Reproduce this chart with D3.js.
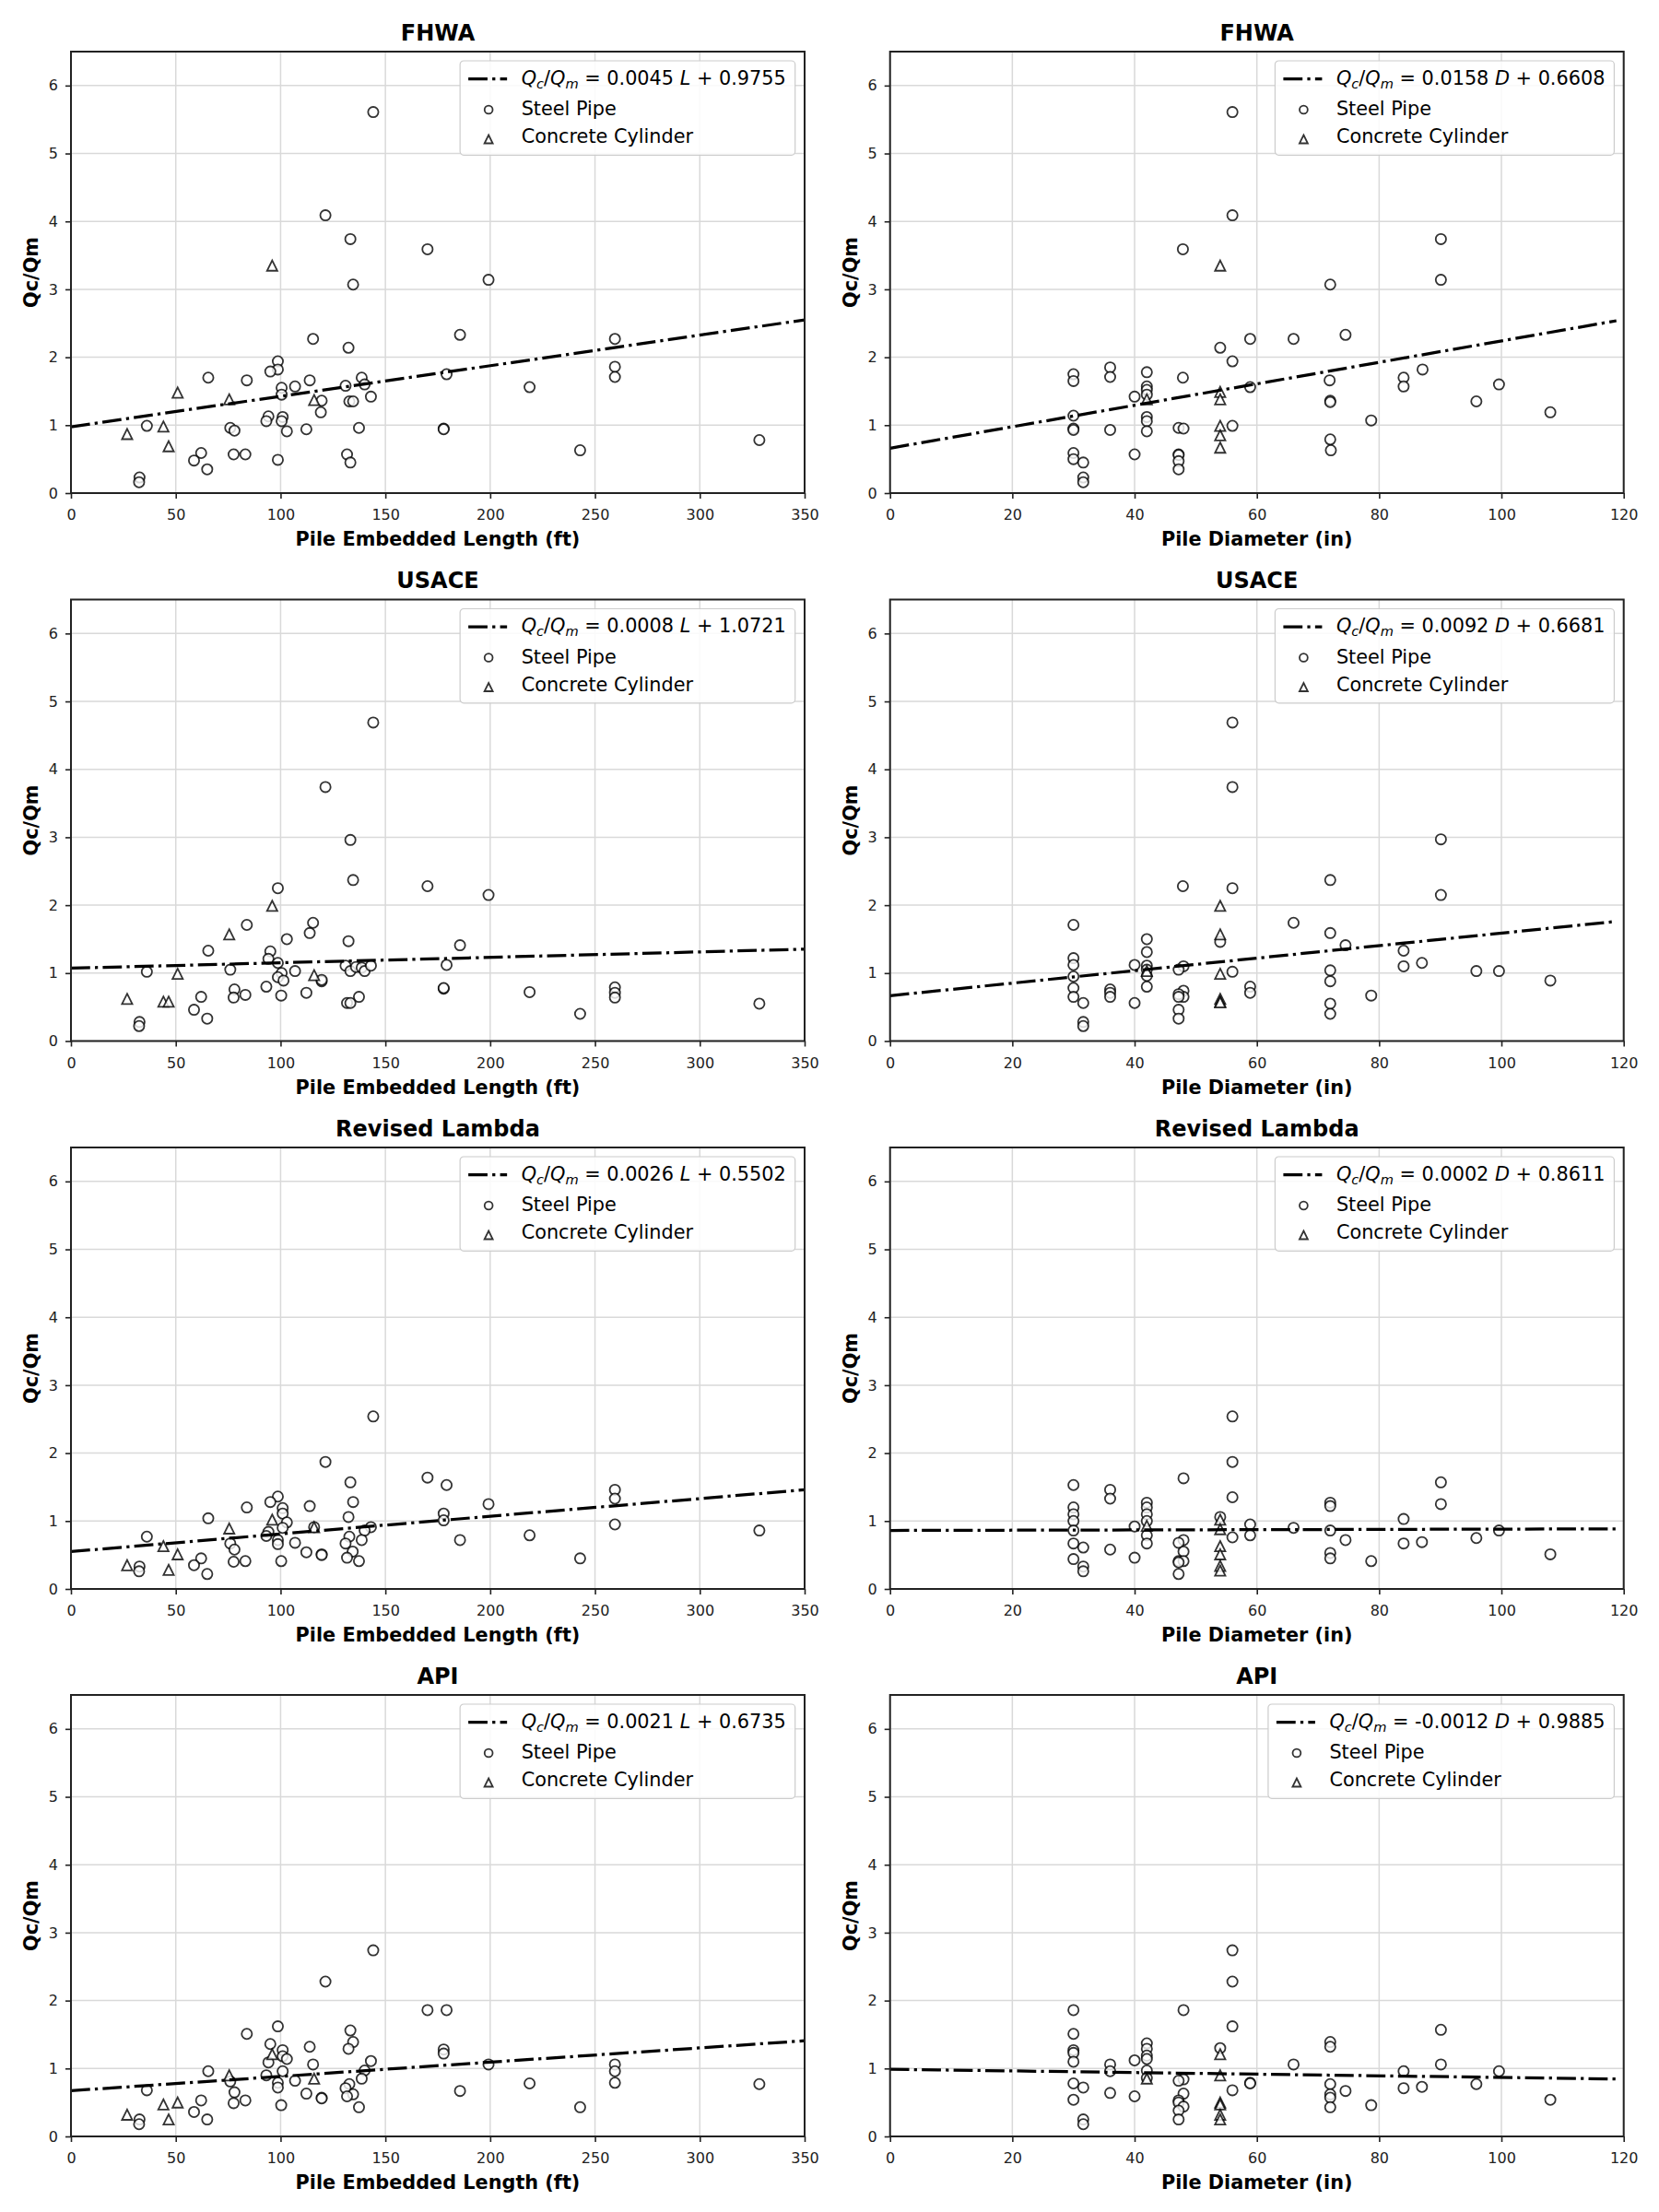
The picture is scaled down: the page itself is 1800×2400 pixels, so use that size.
<!DOCTYPE html>
<html><head><meta charset="utf-8">
<script src="https://cdnjs.cloudflare.com/ajax/libs/d3/7.8.5/d3.min.js"></script>
<style>
body{margin:0;background:#fff;}
text{font-family:"DejaVu Sans",sans-serif;white-space:pre;}
</style></head><body>
<svg id="chart" width="1800" height="2400" xmlns="http://www.w3.org/2000/svg"></svg>
<script>
// ---------------- DATA ----------------
const methods = ["FHWA", "USACE", "Revised Lambda", "API"];
const slopesL = [0.0045, 0.0008, 0.0026, 0.0021];
const interceptsL = [0.9755, 1.0721, 0.5502, 0.6735];
const slopesD = [0.0158, 0.0092, 0.0002, -0.0012];
const interceptsD = [0.6608, 0.6681, 0.8611, 0.9885];
const yTicks = [0, 1, 2, 3, 4, 5, 6];
const xTicksL = [0, 50, 100, 150, 200, 250, 300, 350];
const xTicksD = [0, 20, 40, 60, 80, 100, 120];
const yLabel = "Qc/Qm";
const xLabelL = "Pile Embedded Length (ft)";
const xLabelD = "Pile Diameter (in)";
const legendSteel = "Steel Pipe";
const legendConc = "Concrete Cylinder";

// FHWA
const fhwaL_steel = [[144.2,5.61],[121.4,4.09],[133.3,3.74],[170.1,3.59],[199.2,3.14],[134.6,3.07],[185.6,2.33],[115.5,2.27],[259.5,2.27],[132.4,2.14],[98.7,1.94],[98.7,1.82],[95.1,1.79],[65.5,1.70],[83.9,1.66],[113.9,1.66],[259.5,1.86],[259.5,1.71],[179.2,1.75],[138.7,1.70],[140.1,1.60],[131.0,1.58],[106.9,1.57],[100.5,1.55],[100.5,1.45],[218.8,1.56],[119.6,1.36],[132.8,1.35],[134.6,1.35],[143.1,1.42],[119.2,1.19],[94.2,1.13],[93.2,1.06],[101.0,1.12],[100.5,1.06],[36.2,0.99],[76.0,0.96],[78.0,0.92],[103.0,0.91],[112.3,0.94],[137.4,0.96],[177.8,0.95],[177.8,0.94],[328.4,0.78],[242.9,0.63],[62.1,0.59],[58.7,0.48],[65.0,0.35],[77.6,0.57],[83.2,0.57],[98.7,0.49],[131.7,0.57],[133.3,0.45],[32.7,0.23],[32.5,0.16]];
const fhwaL_conc = [[96.0,3.35],[50.9,1.48],[75.5,1.38],[116.0,1.37],[44.1,0.98],[26.8,0.87],[46.6,0.69]];
const fhwaD_steel = [[56.0,5.61],[56.0,4.09],[90.1,3.74],[47.9,3.59],[90.1,3.14],[72.0,3.07],[74.5,2.33],[58.9,2.27],[66.0,2.27],[54.0,2.14],[56.0,1.94],[36.0,1.85],[36.0,1.71],[30.0,1.75],[30.0,1.65],[42.0,1.78],[42.0,1.57],[42.0,1.52],[47.9,1.70],[87.1,1.82],[84.0,1.70],[84.0,1.57],[71.9,1.66],[58.9,1.56],[99.6,1.60],[40.0,1.42],[42.0,1.45],[72.0,1.36],[72.0,1.34],[95.9,1.35],[108.0,1.19],[30.0,1.14],[42.0,1.12],[42.0,1.06],[30.0,0.95],[30.0,0.93],[36.0,0.93],[42.0,0.91],[47.2,0.96],[48.0,0.95],[56.0,0.99],[78.7,1.07],[72.0,0.79],[72.1,0.63],[30.0,0.59],[30.0,0.50],[31.6,0.45],[40.0,0.57],[47.2,0.57],[47.2,0.56],[47.2,0.47],[47.2,0.35],[31.6,0.23],[31.6,0.16]];
const fhwaD_conc = [[54.0,3.35],[54.0,1.49],[54.0,1.38],[42.0,1.38],[54.0,0.99],[54.0,0.85],[54.0,0.67]];

// USACE
const usaceL_steel = [[144.2,4.69],[121.4,3.74],[133.3,2.96],[134.6,2.37],[98.7,2.25],[170.1,2.28],[199.2,2.15],[83.9,1.71],[115.5,1.74],[113.9,1.59],[103.0,1.50],[132.4,1.47],[185.6,1.41],[65.5,1.33],[95.1,1.32],[94.2,1.21],[98.7,1.15],[100.5,1.00],[131.0,1.11],[133.3,1.03],[136.0,1.09],[138.7,1.08],[140.1,1.03],[143.1,1.11],[106.9,1.03],[179.2,1.12],[36.2,1.02],[76.0,1.05],[98.7,0.94],[101.4,0.89],[119.6,0.88],[119.6,0.90],[93.2,0.80],[177.8,0.77],[177.8,0.78],[78.0,0.76],[77.6,0.64],[83.2,0.68],[100.3,0.67],[112.3,0.71],[137.4,0.65],[218.8,0.72],[259.5,0.79],[259.5,0.71],[259.5,0.64],[62.1,0.65],[58.7,0.46],[65.0,0.33],[131.7,0.56],[133.3,0.56],[242.9,0.40],[328.4,0.55],[32.7,0.28],[32.5,0.22]];
const usaceL_conc = [[96.0,1.99],[75.5,1.57],[50.9,0.99],[116.0,0.97],[26.8,0.62],[44.1,0.58],[46.6,0.58]];
const usaceD_steel = [[56,4.69],[56,3.74],[90.1,2.97],[72,2.37],[47.9,2.28],[56,2.25],[90.1,2.15],[66,1.74],[30,1.71],[72,1.59],[54,1.46],[42,1.50],[42,1.31],[74.5,1.41],[84,1.33],[30,1.22],[30,1.12],[40,1.12],[42,1.11],[42,1.05],[42,0.96],[48,1.10],[47.2,1.05],[87,1.15],[84,1.10],[72,1.04],[95.9,1.03],[99.6,1.03],[56,1.02],[30,0.95],[30,0.78],[30,0.65],[42,0.80],[72,0.88],[108,0.89],[58.9,0.80],[58.9,0.71],[36,0.76],[36,0.71],[36,0.65],[48,0.74],[48,0.65],[47.2,0.69],[47.2,0.65],[78.7,0.67],[31.6,0.56],[40,0.56],[72,0.55],[72,0.40],[47.2,0.46],[47.2,0.33],[31.6,0.28],[31.6,0.22]];
const usaceD_conc = [[54,1.99],[54,1.57],[42,1.03],[54,0.99],[54,0.62],[54,0.58],[54,0.57]];

// Revised Lambda
const rlL_steel = [[144.2,2.54],[121.4,1.87],[133.3,1.57],[170.1,1.64],[179.2,1.53],[259.5,1.46],[259.5,1.33],[98.7,1.36],[95.1,1.28],[134.6,1.28],[83.9,1.20],[113.9,1.22],[101.0,1.19],[101.0,1.11],[199.2,1.25],[177.8,1.11],[177.8,1.01],[132.4,1.06],[65.5,1.04],[103.0,0.98],[259.5,0.95],[101.0,0.90],[116.0,0.91],[143.1,0.91],[140.1,0.86],[94.2,0.84],[93.2,0.78],[218.8,0.79],[328.4,0.86],[36.2,0.77],[98.7,0.72],[98.7,0.66],[132.8,0.77],[138.7,0.72],[185.6,0.72],[76.0,0.67],[106.9,0.68],[131.0,0.67],[78.0,0.58],[112.3,0.54],[119.6,0.51],[119.6,0.50],[134.4,0.55],[131.7,0.46],[62.1,0.45],[242.9,0.45],[77.6,0.40],[83.2,0.41],[100.3,0.41],[137.4,0.41],[58.7,0.35],[32.7,0.33],[32.5,0.26],[65.0,0.22]];
const rlL_conc = [[96.0,1.02],[75.5,0.89],[116.0,0.91],[44.1,0.63],[50.9,0.51],[26.8,0.35],[46.6,0.28]];
const rlD_steel = [[56,2.54],[56,1.87],[48,1.63],[90.1,1.57],[30,1.53],[36,1.46],[36,1.33],[56,1.35],[42,1.27],[90.1,1.25],[72,1.27],[72,1.22],[30,1.20],[30,1.10],[42,1.20],[42,1.10],[54,1.06],[84,1.03],[30,1.00],[42,1.00],[40,0.92],[58.9,0.95],[66,0.90],[30,0.86],[72,0.86],[99.6,0.86],[42,0.79],[58.9,0.79],[56,0.76],[95.9,0.75],[74.5,0.72],[48,0.72],[30,0.67],[42,0.67],[47.2,0.68],[84,0.67],[87,0.69],[31.6,0.61],[36,0.58],[48,0.55],[72,0.53],[72,0.45],[108,0.51],[30,0.44],[40,0.46],[47.2,0.41],[48,0.41],[47.2,0.39],[78.7,0.41],[31.6,0.33],[31.6,0.26],[47.2,0.22]];
const rlD_conc = [[54,1.02],[42,0.93],[54,0.88],[54,0.63],[54,0.51],[54,0.34],[54,0.27]];

// API
const apiL_steel = [[144.2,2.74],[121.4,2.28],[170.1,1.86],[179.2,1.86],[98.7,1.62],[83.9,1.51],[133.3,1.56],[134.6,1.39],[132.4,1.29],[95.1,1.36],[101.0,1.27],[113.9,1.32],[177.8,1.28],[177.8,1.22],[101.0,1.18],[103.0,1.14],[143.1,1.11],[94.2,1.09],[115.5,1.06],[199.2,1.06],[259.5,1.06],[259.5,0.96],[259.5,0.79],[65.5,0.96],[101.0,0.96],[140.1,0.97],[93.2,0.90],[76.0,0.81],[106.9,0.82],[138.7,0.85],[98.7,0.79],[98.7,0.72],[218.8,0.78],[328.4,0.77],[132.8,0.77],[131.0,0.71],[36.2,0.68],[185.6,0.67],[78.0,0.65],[112.3,0.63],[134.6,0.62],[131.7,0.59],[119.6,0.57],[119.6,0.56],[77.6,0.49],[83.2,0.53],[62.1,0.53],[100.3,0.46],[137.4,0.43],[242.9,0.43],[58.7,0.36],[65.0,0.25],[32.7,0.25],[32.5,0.18]];
const apiL_conc = [[96.0,1.21],[75.5,0.90],[116.0,0.85],[44.1,0.47],[50.9,0.50],[26.8,0.32],[46.6,0.25]];
const apiD_steel = [[56,2.74],[56,2.28],[30,1.86],[48,1.86],[56,1.62],[90.1,1.57],[30,1.51],[72,1.39],[72,1.32],[42,1.37],[30,1.27],[30,1.23],[54,1.30],[42,1.29],[42,1.19],[42,1.14],[40,1.12],[30,1.10],[36,1.06],[66,1.06],[90.1,1.06],[36,0.96],[42,0.97],[84,0.96],[99.6,0.96],[42,0.86],[48,0.84],[47.2,0.82],[58.9,0.79],[58.9,0.78],[30,0.78],[72,0.77],[95.9,0.77],[31.6,0.72],[84,0.71],[87,0.73],[56,0.68],[74.5,0.67],[36,0.64],[48,0.63],[72,0.62],[40,0.59],[72,0.57],[30,0.54],[108,0.54],[47.2,0.53],[47.2,0.50],[48,0.44],[72,0.43],[78.7,0.46],[47.2,0.38],[47.2,0.25],[31.6,0.25],[31.6,0.18]];
const apiD_conc = [[54,1.21],[54,0.90],[42,0.85],[54,0.50],[54,0.47],[54,0.32],[54,0.25]];

const steelL = [fhwaL_steel, usaceL_steel, rlL_steel, apiL_steel];
const concL  = [fhwaL_conc, usaceL_conc, rlL_conc, apiL_conc];
const steelD = [fhwaD_steel, usaceD_steel, rlD_steel, apiD_steel];
const concD  = [fhwaD_conc, usaceD_conc, rlD_conc, apiD_conc];

// ---------------- LAYOUT ----------------
const W = 796, H = 479;
const colX = [77, 965.7];
const rowY = [56, 650.5, 1245, 1839];
const INK = "#222";

const panels = [];
methods.forEach((m, i) => {
  panels.push({title: m, row: i, col: 0, steel: steelL[i], conc: concL[i], slope: slopesL[i], icpt: interceptsL[i], v: "L", xMax: 350, xTicks: xTicksL, xLabel: xLabelL});
  panels.push({title: m, row: i, col: 1, steel: steelD[i], conc: concD[i], slope: slopesD[i], icpt: interceptsD[i], v: "D", xMax: 120, xTicks: xTicksD, xLabel: xLabelD});
});

const svg = d3.select("#chart");
svg.append("rect").attr("width", 1800).attr("height", 2400).attr("fill", "#fff");

const triPath = s => `M0,${-s}L${s},${s}L${-s},${s}Z`;

panels.forEach((p, k) => {
  const g = svg.append("g").attr("transform", `translate(${colX[p.col]},${rowY[p.row]})`);
  const x = d3.scaleLinear().domain([0, p.xMax]).range([0, W]);
  const y = d3.scaleLinear().domain([0, 6.5]).range([H, 0]);
  const cid = "clip" + k;
  g.append("clipPath").attr("id", cid).append("rect").attr("width", W).attr("height", H);

  // grid
  const grid = g.append("g");
  grid.selectAll("line.gx").data(p.xTicks).join("line").attr("class", "gx")
    .attr("x1", d => x(d)).attr("x2", d => x(d)).attr("y1", 0).attr("y2", H)
    .attr("stroke", "#d9d9d9").attr("stroke-width", 1.5);
  grid.selectAll("line.gy").data(yTicks).join("line").attr("class", "gy")
    .attr("x1", 0).attr("x2", W).attr("y1", d => y(d)).attr("y2", d => y(d))
    .attr("stroke", "#d9d9d9").attr("stroke-width", 1.5);

  // points
  const pts = g.append("g").attr("clip-path", `url(#${cid})`);
  pts.selectAll("circle").data(p.steel).join("circle")
    .attr("cx", d => x(d[0])).attr("cy", d => y(d[1])).attr("r", 5.6)
    .attr("fill", "#fff").attr("fill-opacity", 0.8)
    .attr("stroke", "#000").attr("stroke-opacity", 0.8).attr("stroke-width", 1.8);
  pts.selectAll("path.tri").data(p.conc).join("path").attr("class", "tri")
    .attr("d", triPath(5.6))
    .attr("transform", d => `translate(${x(d[0])},${y(d[1])})`)
    .attr("fill", "#fff").attr("fill-opacity", 0.8)
    .attr("stroke", "#000").attr("stroke-opacity", 0.8).attr("stroke-width", 1.8)
    .attr("stroke-linejoin", "miter");

  // regression line
  const xEnd = 1.1 * d3.max(p.steel.concat(p.conc), d => d[0]);
  const lineData = [0, xEnd].map(v => [v, p.slope * v + p.icpt]);
  g.append("path").attr("clip-path", `url(#${cid})`)
    .attr("d", d3.line().x(d => x(d[0])).y(d => y(d[1]))(lineData))
    .attr("fill", "none").attr("stroke", "#000").attr("stroke-width", 3.25)
    .attr("stroke-dasharray", "20.8,5.2,3.25,5.2");

  // axes
  const ax = g.append("g").attr("transform", `translate(0,${H})`)
    .call(d3.axisBottom(x).tickValues(p.xTicks).tickSize(6).tickPadding(11.9).tickFormat(d3.format("d")));
  const ay = g.append("g")
    .call(d3.axisLeft(y).tickValues(yTicks).tickSize(6).tickPadding(8).tickFormat(d3.format("d")));
  [ax, ay].forEach(a => {
    a.select(".domain").remove();
    a.attr("font-family", "DejaVu Sans").attr("font-size", 16);
    a.selectAll(".tick line").attr("stroke", INK).attr("stroke-width", 1.6);
    a.selectAll(".tick text").attr("fill", INK);
  });
  // spines
  g.append("rect").attr("width", W).attr("height", H).attr("fill", "none")
    .attr("stroke", INK).attr("stroke-width", 2);

  // title & labels
  g.append("text").attr("x", W / 2).attr("y", -12.5).attr("text-anchor", "middle")
    .attr("font-weight", "bold").attr("font-size", 24).attr("fill", "#000").text(p.title);
  g.append("text").attr("x", W / 2).attr("y", H + 57).attr("text-anchor", "middle")
    .attr("font-weight", "bold").attr("font-size", 20.8).attr("fill", "#000").text(p.xLabel);
  g.append("text").attr("transform", `translate(-36,${H / 2}) rotate(-90)`).attr("text-anchor", "middle")
    .attr("font-weight", "bold").attr("font-size", 20.8).attr("fill", "#000").text(yLabel);

  // legend
  const lg = g.append("g");
  const box = lg.append("rect");
  const items = lg.append("g");
  const tx = 66.5;
  const eq = items.append("text").attr("x", tx).attr("y", 25.7).attr("font-size", 20.8).attr("fill", "#000");
  eq.append("tspan").attr("font-style", "italic").text("Q");
  eq.append("tspan").attr("font-style", "italic").attr("font-size", 14.6).attr("dy", 4.2).text("c");
  eq.append("tspan").attr("dy", -4.2).text("/");
  eq.append("tspan").attr("font-style", "italic").text("Q");
  eq.append("tspan").attr("font-style", "italic").attr("font-size", 14.6).attr("dy", 4.2).text("m");
  eq.append("tspan").attr("dy", -4.2).text(" = " + p.slope.toFixed(4) + " ");
  eq.append("tspan").attr("font-style", "italic").text(p.v);
  eq.append("tspan").text(" + " + p.icpt.toFixed(4));
  items.append("text").attr("x", tx).attr("y", 59).attr("font-size", 20.8).attr("fill", "#000").text(legendSteel);
  items.append("text").attr("x", tx).attr("y", 89).attr("font-size", 20.8).attr("fill", "#000").text(legendConc);
  items.append("line").attr("x1", 9).attr("x2", 51).attr("y1", 19.7).attr("y2", 19.7)
    .attr("stroke", "#000").attr("stroke-width", 3.25).attr("stroke-dasharray", "20.8,5.2,3.25,5.2");
  items.append("circle").attr("cx", 31).attr("cy", 53).attr("r", 4.4)
    .attr("fill", "#fff").attr("stroke", "#000").attr("stroke-opacity", 0.8).attr("stroke-width", 1.8);
  items.append("path").attr("d", triPath(4.5)).attr("transform", "translate(31,85)")
    .attr("fill", "#fff").attr("stroke", "#000").attr("stroke-opacity", 0.8).attr("stroke-width", 1.8);
  const tw = Math.max(eq.node().getComputedTextLength(), 200);
  const bw = tx + tw + 10;
  box.attr("width", bw).attr("height", 102.3).attr("rx", 4)
    .attr("fill", "#fff").attr("fill-opacity", 0.85).attr("stroke", "#cccccc").attr("stroke-width", 1.2);
  lg.attr("transform", `translate(${W - 10.3 - bw},10)`);
});
</script>
</body></html>
